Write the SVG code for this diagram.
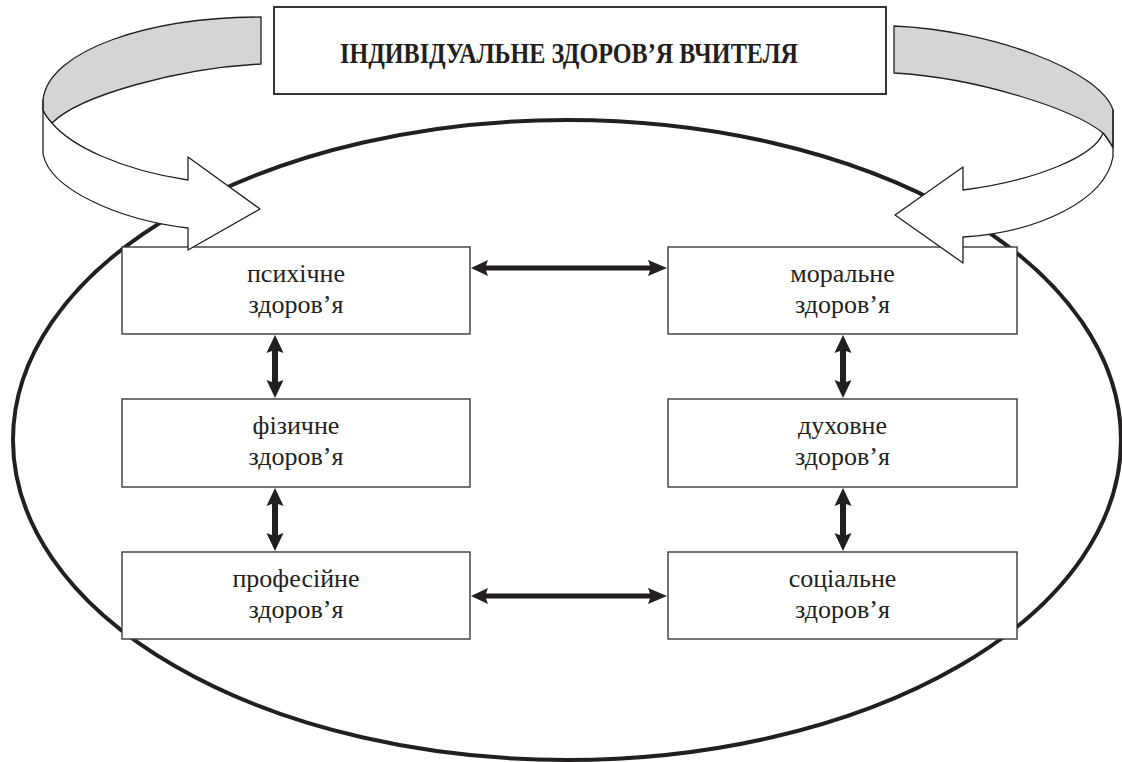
<svg xmlns="http://www.w3.org/2000/svg" width="1122" height="762" viewBox="0 0 1122 762">
<style>
.bg{fill:#ffffff}
.oval{fill:none;stroke:#231f20;stroke-width:4}
.box{fill:#ffffff;stroke:#3a3a3a;stroke-width:1.4}
.title{fill:#ffffff;stroke:#231f20;stroke-width:1.8}
.lbl{font-size:26px;fill:#231f20;text-anchor:middle}
.ttl{font-size:30px;font-weight:bold;fill:#231f20;text-anchor:middle}
.arr{fill:#231f20;stroke:none}
.band{stroke:#231f20;stroke-width:1.3;stroke-linejoin:round}
.grey{fill:#d4d5d7}
.white{fill:#ffffff}
</style>
<rect class="bg" x="0" y="0" width="1122" height="762"/>
<g id="oval">
<ellipse class="oval" cx="567" cy="440" rx="554" ry="320"/>
</g>
<g id="title">
<rect class="title" x="274" y="7" width="612" height="87"/>
<text class="ttl" font-family="'Liberation Serif', 'DejaVu Serif', serif" x="569" y="63" textLength="458" lengthAdjust="spacingAndGlyphs">ІНДИВІДУАЛЬНЕ ЗДОРОВ’Я ВЧИТЕЛЯ</text>
</g>
<g id="psychic" font-family="'Liberation Serif', 'DejaVu Serif', serif">
<rect class="box" x="122" y="247" width="348" height="87"/>
<text class="lbl" x="296" y="282">психічне</text>
<text class="lbl" x="296" y="313">здоров’я</text>
</g>
<g id="physical" font-family="'Liberation Serif', 'DejaVu Serif', serif">
<rect class="box" x="122" y="399" width="348" height="88"/>
<text class="lbl" x="296" y="434">фізичне</text>
<text class="lbl" x="296" y="465">здоров’я</text>
</g>
<g id="professional" font-family="'Liberation Serif', 'DejaVu Serif', serif">
<rect class="box" x="122" y="552" width="348" height="87"/>
<text class="lbl" x="296" y="587">професійне</text>
<text class="lbl" x="296" y="618">здоров’я</text>
</g>
<g id="moral" font-family="'Liberation Serif', 'DejaVu Serif', serif">
<rect class="box" x="668" y="247" width="349" height="87"/>
<text class="lbl" x="842.5" y="282">моральне</text>
<text class="lbl" x="842.5" y="313">здоров’я</text>
</g>
<g id="spiritual" font-family="'Liberation Serif', 'DejaVu Serif', serif">
<rect class="box" x="668" y="399" width="349" height="88"/>
<text class="lbl" x="842.5" y="434">духовне</text>
<text class="lbl" x="842.5" y="465">здоров’я</text>
</g>
<g id="social" font-family="'Liberation Serif', 'DejaVu Serif', serif">
<rect class="box" x="668" y="552" width="349" height="87"/>
<text class="lbl" x="842.5" y="587">соціальне</text>
<text class="lbl" x="842.5" y="618">здоров’я</text>
</g>
<g id="connectors">
<polygon class="arr" points="471,268 488,260 486,265.5 650,265.5 648,260 667,268 648,276 650,270.5 486,270.5 488,276"/>
<polygon class="arr" points="471,596 488,588 486,593.5 650,593.5 648,588 667,596 648,604 650,598.5 486,598.5 488,604"/>
<polygon class="arr" points="275,335 283.5,353 278,351 278,382 283.5,380 275,398 266.5,380 272,382 272,351 266.5,353"/>
<polygon class="arr" points="275,488 283.5,506 278,504 278,535 283.5,533 275,551 266.5,533 272,535 272,504 266.5,506"/>
<polygon class="arr" points="843,335 851.5,353 846,351 846,382 851.5,380 843,398 834.5,380 840,382 840,351 834.5,353"/>
<polygon class="arr" points="843,488 851.5,506 846,504 846,535 851.5,533 843,551 834.5,533 840,535 840,504 834.5,506"/>
</g>
<g id="loop-left">
<path class="band grey" d="M261,17 C150,17 48,50 43,100 L43,110 C45,115 48,119 52,123 C80,95 180,68 261,64 Z"/>
<path class="band white" d="M52,123 C48,119 45,115 43,110 L43,100 L43,154 C50,190 120,220 188,228 L188,250 L260,209 L188,157 L188,180 C120,170 70,145 52,123 Z"/>
</g>
<g id="loop-right">
<path class="band grey" d="M894,26 C990,30 1100,70 1113,110 L1113,148 C1110,142 1107,138 1103,133 C1075,110 980,78 894,73 Z"/>
<path class="band white" d="M1103,133 C1107,138 1110,142 1113,148 L1113,110 L1113,157 C1105,200 1040,232 963,237 L963,263 L895,215 L963,167 L963,190 C1040,180 1095,155 1103,133 Z"/>
</g>
</svg>
